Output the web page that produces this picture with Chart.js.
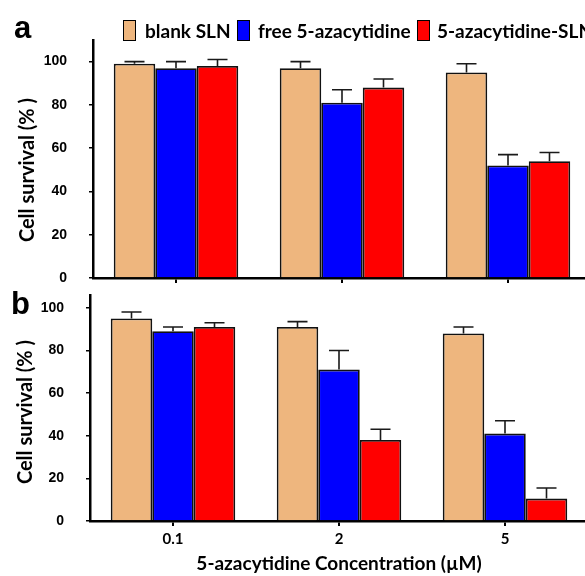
<!DOCTYPE html>
<html>
<head>
<meta charset="utf-8">
<script src="https://cdn.jsdelivr.net/npm/chart.js@4"></script>
<style>
  html, body { margin: 0; padding: 0; background: #fff; }
  #wrap { position: relative; width: 585px; height: 576px; overflow: hidden; background: #fff; }
  .panel { position: absolute; left: 0; width: 600px; }
  .letter { position: absolute; font-family: "Liberation Sans", Arial, sans-serif; font-weight: bold; font-size: 31px; line-height: 1; color: #000; }
  .ytitle { position: absolute; font-family: Lato, sans-serif; font-weight: bold; font-size: 20px; color: #000;
            white-space: nowrap; transform: translate(-50%, -50%) rotate(-90deg); line-height: 1; }
  .lg-box { position: absolute; top: 20px; width: 11px; height: 19px; border: 1.5px solid #000; }
  .lg-text { position: absolute; top: 19px; font-family: Lato, sans-serif; font-weight: bold; font-size: 19px; line-height: 24px; color: #000; white-space: nowrap; }
</style>
</head>
<body>
<div id="wrap">
  <div class="panel" style="top:0;height:285px"><canvas id="chartA"></canvas></div>
  <div class="panel" style="top:285px;height:291px"><canvas id="chartB"></canvas></div>

  <div class="letter" style="left:14px;top:12px">a</div>
  <div class="letter" style="left:11px;top:288px">b</div>
  <div class="ytitle" style="left:26px;top:170px">Cell survival (% )</div>
  <div class="ytitle" style="left:24px;top:412px">Cell survival (% )</div>
  <div id="legend"></div>
</div>

<script>
// categories and series
const concentrations = ['0.1', '2', '5'];
const seriesNames = ['blank SLN', 'free 5-azacytidine', '5-azacytidine-SLN'];
const seriesColors = ['#EEB67E', '#0000FF', '#FF0000'];

// panel a
const blankA = [99, 97, 95];
const blankAErr = [1, 3, 4];
const freeA = [97, 81, 52];
const freeAErr = [3, 6, 5];
const slnA = [98, 88, 54];
const slnAErr = [3, 4, 4];

// panel b
const blankB = [95, 91, 88];
const blankBErr = [3, 2.5, 3];
const freeB = [89, 71, 41];
const freeBErr = [2, 9, 6];
const slnB = [91, 38, 10.5];
const slnBErr = [2, 5, 5];

const yStep = 20;
const xTitle = '5-azacytidine Concentration (\u00B5M)';

// legend (html)
const legendBoxX = [123, 237, 417];
const legendTextX = [145, 258, 437];
const legendEl = document.getElementById('legend');
seriesNames.forEach((name, i) => {
    const box = document.createElement('div');
    box.className = 'lg-box';
    box.style.left = legendBoxX[i] + 'px';
    box.style.background = seriesColors[i];
    legendEl.appendChild(box);
    const txt = document.createElement('div');
    txt.className = 'lg-text';
    txt.style.left = legendTextX[i] + 'px';
    txt.textContent = name;
    legendEl.appendChild(txt);
});

// upward error bars with caps
const errorBars = {
    id: 'errorBars',
    afterDatasetsDraw(chart) {
        const ctx = chart.ctx;
        const y = chart.scales.y;
        ctx.save();
        ctx.strokeStyle = '#1a1a1a';
        ctx.lineWidth = 1.6;
        chart.data.datasets.forEach((ds, i) => {
            const meta = chart.getDatasetMeta(i);
            meta.data.forEach((bar, j) => {
                const top = y.getPixelForValue(ds.data[j] + ds.errors[j]);
                ctx.beginPath();
                ctx.moveTo(bar.x, bar.y);
                ctx.lineTo(bar.x, top);
                ctx.moveTo(bar.x - 10, top);
                ctx.lineTo(bar.x + 10, top);
                ctx.stroke();
            });
        });
        ctx.restore();
    }
};

function makeDatasets(values, errors) {
    return values.map((data, i) => ({
        label: seriesNames[i],
        data: data,
        errors: errors[i],
        backgroundColor: seriesColors[i],
        borderColor: '#111',
        borderWidth: 1.8,
        borderSkipped: 'bottom',
        barPercentage: 1,
        categoryPercentage: 0.75
    }));
}

function makeOptions(cfg) {
    return {
        responsive: true,
        maintainAspectRatio: false,
        animation: false,
        layout: { padding: { top: cfg.top, right: cfg.right, left: 0, bottom: 0 } },
        plugins: { legend: { display: false }, tooltip: { enabled: false } },
        scales: {
            x: {
                grid: { display: true, drawOnChartArea: false, offset: false, tickLength: 5, color: '#000', lineWidth: 2 },
                border: { display: true, color: '#000', width: 2.5 },
                ticks: {
                    display: cfg.showX,
                    color: '#000',
                    padding: 4,
                    font: { family: 'Lato', weight: 'bold', size: 15 }
                },
                title: {
                    display: cfg.showX,
                    text: xTitle,
                    color: '#000',
                    padding: { top: 0, bottom: 1 },
                    font: { family: 'Lato', weight: 'bold', size: 19 }
                },
                afterFit: s => { s.height = cfg.xHeight; }
            },
            y: {
                min: 0,
                max: cfg.yMax,
                grid: { display: true, drawOnChartArea: false, tickLength: 4, color: '#000', lineWidth: 1.5 },
                border: { display: true, color: '#000', width: 2.5 },
                ticks: {
                    stepSize: yStep,
                    includeBounds: false,
                    color: '#000',
                    padding: 22,
                    font: { family: '"Liberation Sans", Arial', weight: 'bold', size: 14 }
                },
                afterFit: s => {
                    s.width = cfg.yWidth;
                    // tick padding must not push the plot area in
                    s.paddingTop = 0;
                    s.paddingBottom = 0;
                }
            }
        }
    };
}

new Chart(document.getElementById('chartA'), {
    type: 'bar',
    data: {
        labels: concentrations,
        datasets: makeDatasets([blankA, freeA, slnA], [blankAErr, freeAErr, slnAErr])
    },
    options: makeOptions({ top: 40, right: 9, yMax: 110, yWidth: 93, xHeight: 7, showX: false }),
    plugins: [errorBars]
});

new Chart(document.getElementById('chartB'), {
    type: 'bar',
    data: {
        labels: concentrations,
        datasets: makeDatasets([blankB, freeB, slnB], [blankBErr, freeBErr, slnBErr])
    },
    options: makeOptions({ top: 10, right: 12, yMax: 106, yWidth: 90, xHeight: 55, showX: true }),
    plugins: [errorBars]
});
</script>
</body>
</html>
